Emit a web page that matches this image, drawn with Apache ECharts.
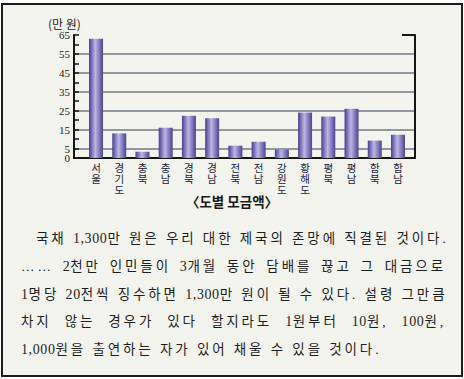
<!DOCTYPE html>
<html><head><meta charset="utf-8">
<script src="https://cdn.jsdelivr.net/npm/echarts@6/dist/echarts.min.js"></script>
<style>
html,body{margin:0;padding:0;background:#fff;width:464px;height:379px;overflow:hidden;}
#frame{position:absolute;left:1px;top:3px;width:458px;height:370px;border:2px solid #1b1b1b;background:#f4f4ee;}
#chart{position:absolute;left:0;top:0;width:464px;height:379px;}
#text{position:absolute;left:21px;top:225px;width:425px;font-family:"Liberation Serif","Noto Sans CJK KR",serif;font-size:13.5px;line-height:27.8px;color:#1e1e1e;letter-spacing:2.9px;}
#text div{white-space:nowrap;text-align:justify;text-align-last:justify;}
#text div.last{text-align-last:left;}
#text span.n{letter-spacing:0.6px;font-size:14px;}
</style></head>
<body>
<div id="frame"></div>
<div id="chart"></div>
<div id="text"></div>
<script>
const categories = ['서울','경기도','충북','충남','경북','경남','전북','전남','강원도','황해도','평북','평남','함북','함남'];
const values = [63, 13, 3.3, 16, 22.3, 21, 6.5, 8.6, 4.4, 24, 21.9, 26, 9.2, 12.3];
const yMin = 0, yMax = 65, yStep = 5;
const unitLabel = '(만 원)';
const chartTitle = '〈도별 모금액〉';
const paragraphLines = [
  '국채 1,300만 원은 우리 대한 제국의 존망에 직결된 것이다.',
  '…… 2천만 인민들이 3개월 동안 담배를 끊고 그 대금으로',
  '1명당 20전씩 징수하면 1,300만 원이 될 수 있다. 설령 그만큼',
  '차지 않는 경우가 있다 할지라도 1원부터 10원, 100원,',
  '1,000원을 출연하는 자가 있어 채울 수 있을 것이다.'
];

const txt = document.getElementById('text');
const esc = s => s.replace(/&/g, '&amp;').replace(/</g, '&lt;');
paragraphLines.forEach((l, i) => {
  const d = document.createElement('div');
  d.innerHTML = esc(l).replace(/[0-9][0-9,]*[0-9]|[0-9]/g, m => '<span class="n">' + m + '</span>');
  if (i === 0) d.style.paddingLeft = '15px';
  if (i === paragraphLines.length - 1) d.className = 'last';
  txt.appendChild(d);
});

const chart = echarts.init(document.getElementById('chart'), null, {renderer: 'svg'});
const numFont = '"Liberation Serif", serif';
const krFont = '"Noto Sans CJK KR", sans-serif';
const axisColor = '#161616';
const gridColor = '#707a84';
const labelBase = {margin: 4, fontFamily: numFont, fontSize: 11, color: '#222'};
chart.setOption({
  backgroundColor: 'transparent',
  animation: false,
  title: [
    {text: unitLabel, left: 48, top: 17, padding: 0, textStyle: {fontFamily: krFont, fontSize: 12, fontWeight: 'normal', color: '#2a2218'}},
    {text: chartTitle, left: 'center', top: 194, padding: 0, textStyle: {fontFamily: krFont, fontSize: 13.5, fontWeight: 'bold', color: '#1a1a1a'}}
  ],
  grid: [
    {left: 74, right: 49, top: 35, bottom: 221},
    {left: 84.4, right: 54.4, top: 35, bottom: 221}
  ],
  xAxis: [
    {gridIndex: 0, type: 'value', min: 0, max: 1, axisLine: {show: true, onZero: false, lineStyle: {color: axisColor, width: 2}}, axisTick: {show: false}, axisLabel: {show: false}, splitLine: {show: false}},
    {gridIndex: 1, type: 'category', data: categories, axisLine: {show: false}, axisTick: {show: false},
     axisLabel: {interval: 0, margin: 4, fontFamily: krFont, fontSize: 10.5, lineHeight: 11, color: '#23233f', verticalAlign: 'top',
       formatter: v => v.split('').join('\n')}}
  ],
  yAxis: [
    {gridIndex: 0, type: 'value', position: 'left', min: yMin, max: yMax, interval: yStep,
     axisLine: {show: true, lineStyle: {color: axisColor, width: 2}},
     axisTick: {show: true, inside: true, length: 5, lineStyle: {color: axisColor, width: 1.5}},
     axisLabel: Object.assign({}, labelBase, {showMinLabel: false, showMaxLabel: true,
       formatter: v => (v % 10 === 5) ? String(v) : ''}),
     splitLine: {show: true, showMinLine: true, showMaxLine: false, lineStyle: {color: ['transparent', gridColor], width: 1.5}}},
    {gridIndex: 0, type: 'value', position: 'left', min: yMin, max: yMax, interval: yMax,
     axisLine: {show: false}, axisTick: {show: true, inside: true, length: 13, lineStyle: {color: axisColor, width: 2}},
     axisLabel: Object.assign({}, labelBase, {showMinLabel: true, showMaxLabel: false, formatter: v => v === yMin ? String(v) : ''}),
     splitLine: {show: false}},
    {gridIndex: 0, type: 'value', position: 'right', min: yMin, max: yMax, interval: yMax,
     axisLine: {show: true, lineStyle: {color: axisColor, width: 2}}, axisTick: {show: true, inside: true, length: 13, lineStyle: {color: axisColor, width: 2}},
     axisLabel: {show: false}, splitLine: {show: false}},
    {gridIndex: 1, type: 'value', min: yMin, max: yMax, show: false}
  ],
  series: [{
    type: 'bar', xAxisIndex: 1, yAxisIndex: 3, data: values, barWidth: 14,
    itemStyle: {color: new echarts.graphic.LinearGradient(0, 0, 1, 0, [
      {offset: 0, color: '#4a3e8e'}, {offset: 0.45, color: '#bdb6e6'}, {offset: 1, color: '#4d4290'}
    ])}
  }]
});
</script>
</body></html>
